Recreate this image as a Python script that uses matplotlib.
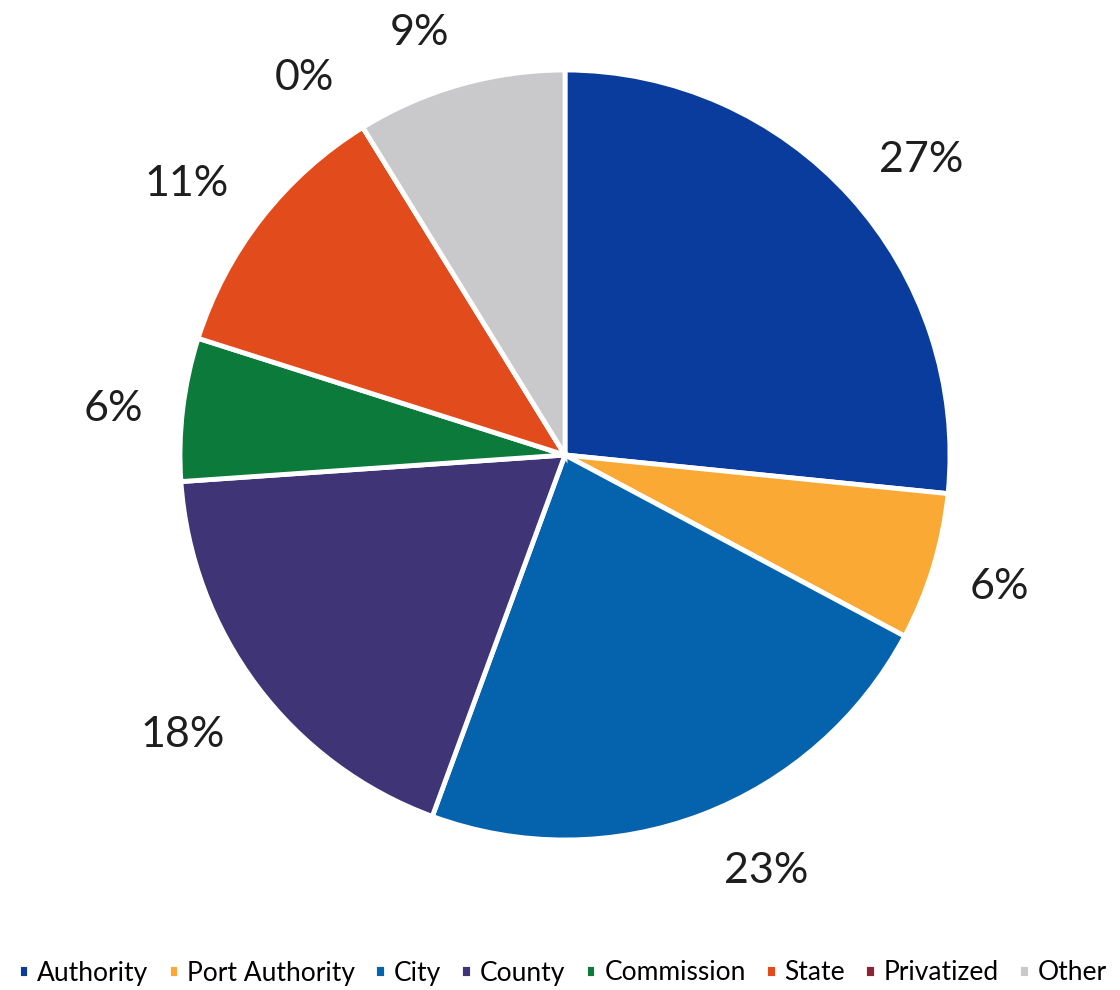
import numpy as np
import matplotlib
matplotlib.use("Agg")
import matplotlib.pyplot as plt

categories = ['Authority', 'Port Authority', 'City', 'County', 'Commission',
              'State', 'Privatized', 'Other']
shares = [26.6, 6.2, 22.8, 18.3, 6.0, 11.3, 0.0, 8.8]
labels = ['27%', '6%', '23%', '18%', '6%', '11%', '0%', '9%']
colors = ['#0a3c9e', '#f9a934', '#0563ae', '#3e3476', '#0b7a3b',
          '#e24b1b', '#8b2535', '#c9c9cb']

# label placement tweaks (radial distance, angle shift in degrees)
label_dist = [1.20, 1.18, 1.20, 1.23, 1.18, 1.21, 1.19, 1.16]
label_shift = [-2.5, 0, 5, -0.7, 1, 2.4, 3, 3.2]

plt.rcParams['font.family'] = ['Lato', 'DejaVu Sans']

fig = plt.figure(figsize=(11.2, 9.9), dpi=100)
ax = fig.add_axes([0, 0, 1, 1])
ax.axis('off')

wedges, texts = ax.pie(shares, labels=labels, colors=colors, startangle=90,
                       counterclock=False, radius=1, labeldistance=1.2,
                       wedgeprops=dict(edgecolor='white', linewidth=3.5),
                       textprops=dict(fontsize=31, color='#1e1e1e'))
for w, t, d, s in zip(wedges, texts, label_dist, label_shift):
    ang = np.deg2rad((w.theta1 + w.theta2) / 2 + s)
    t.set_position((d * np.cos(ang), d * np.sin(ang)))
    t.set_ha('center')
    t.set_va('center')

# same scale on both axes: 1 unit = 385 px, centre at (565, 455) px from top-left
ax.set_aspect('auto')
ax.set_xlim(-565 / 385, 555 / 385)
ax.set_ylim(-535 / 385, 455 / 385)

fig.legend(wedges, categories, loc='center', bbox_to_anchor=(0.502, 17 / 990),
           ncol=8, frameon=False, fontsize=19, handlelength=0.45,
           handleheight=0.45, handletextpad=0.3, columnspacing=0.72,
           borderpad=0, borderaxespad=0)

fig.savefig('out.png', dpi=100, facecolor='white')
